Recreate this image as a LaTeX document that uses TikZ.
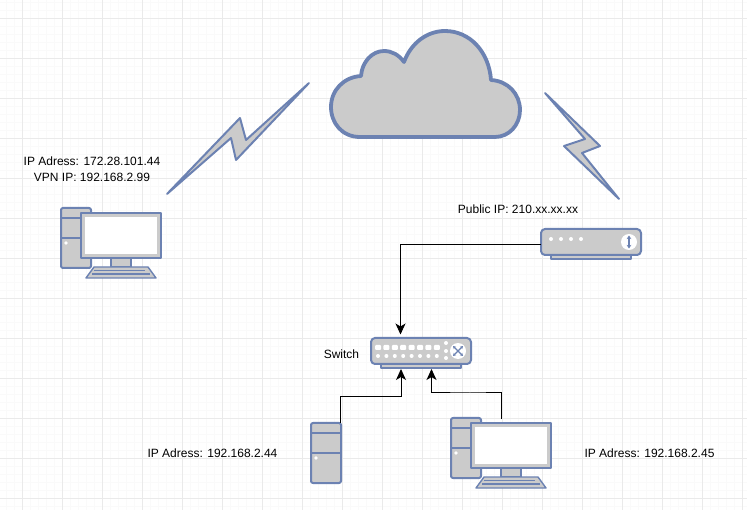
\documentclass[tikz,border=0pt]{standalone}
\usepackage{fontspec}
\setmainfont{Liberation Sans}
\usetikzlibrary{arrows.meta}
\definecolor{iconblue}{HTML}{6C82B2}
\definecolor{icongray}{HTML}{CBCBCB}
\definecolor{gridminor}{HTML}{FAFAFA}
\definecolor{gridmajor}{HTML}{EAEAEA}
\tikzset{
  icon/.style={draw=iconblue, fill=icongray, line width=2pt, line join=round},
  label/.style={font=\fontsize{12}{16}\selectfont, inner sep=0pt, align=center},
  wire/.style={draw=black, line width=1pt, -{Stealth[length=11pt,width=10pt,inset=3pt]}},
  tower/.pic={
    \path[icon, rounded corners=2pt] (0,0) rectangle (30,60);
    \draw[iconblue, line width=2pt] (0,10) -- (30,10) (0,30) -- (30,30);
    \fill[white] (5,35) circle (1.8);
  },
  computer/.pic={
    \pic at (0,0) {tower};
    \path[icon] (50,50) rectangle (70,59);
    \path[icon, line width=1.4pt] (25,70) -- (33,59) -- (87,59) -- (95,70) -- cycle;
    \draw[iconblue, line width=1.5pt] (33,62.5) -- (84,62.5) (31,66) -- (89,66);
    \path[icon] (20,5) rectangle (100,50);
    \fill[white] (24,9) rectangle (96,46);
  },
  box/.pic={
    \path[icon, line width=1.6pt] (10,26) rectangle (90,30);
    \path[icon, rounded corners=4pt] (0,0) rectangle (100,26);
  }
}
\begin{document}
\begin{tikzpicture}[x=1pt, y=-1pt]
    \useasboundingbox (0,0) rectangle (747,510);
    \fill[white] (0,0) rectangle (747,510);
    % grid
    \foreach \gx in {-2,6,...,746} \draw[gridminor, line width=0.6pt] (\gx,0) -- (\gx,510);
    \foreach \gy in {2,10,...,510} \draw[gridminor, line width=0.6pt] (0,\gy) -- (747,\gy);
    \foreach \gx in {22,62,...,746} \draw[gridmajor, line width=0.7pt] (\gx,0) -- (\gx,510);
    \foreach \gy in {18,58,...,510} \draw[gridmajor, line width=0.7pt] (0,\gy) -- (747,\gy);

    % cloud
    \path[icon, line width=3.8pt] (360,137)
      .. controls (342,137) and (331,123) .. (331,107)
      .. controls (331,90) and (344,77) .. (361,76)
      .. controls (362,62) and (372,51) .. (384,51)
      .. controls (392,51) and (399,55) .. (404,62)
      .. controls (411,43) and (427,31) .. (445,31)
      .. controls (470,31) and (489,52) .. (491,80)
      .. controls (508,81) and (520,94) .. (520,110)
      .. controls (520,125) and (509,137) .. (495,137)
      -- cycle;

    % bolts
    \path[icon] (167,194) -- (240,118) -- (246,140) -- (309,83) -- (236,160) -- (231,138) -- cycle;
    \path[icon] (545,93) -- (600,146) -- (582,153) -- (619,199) -- (564,146) -- (585,139) -- cycle;

    % devices
    \pic at (61,208) {computer};
    \pic at (451,418) {computer};
    \pic at (311,423) {tower};

    % router
    \pic at (541,229) {box};
    \foreach \dx in {551,561,571,581} \fill[white] (\dx,239) circle (2);
    \fill[white] (629,242) circle (8);
    \draw[iconblue, line width=1.5pt, {Stealth[length=3.5pt,width=4.5pt]}-{Stealth[length=3.5pt,width=4.5pt]}] (629,235.5) -- (629,248.5);

    % switch
    \pic at (371,338) {box};
    \foreach \dx in {0,...,7} {
      \fill[white, rounded corners=1pt] (375+\dx*8.4,345) rectangle (381+\dx*8.4,350);
      \fill[white] (378+\dx*8.4,356) circle (2);
    }
    \foreach \dy in {343,351,358} \fill[white] (446,\dy) circle (2);
    \fill[white] (458,351) circle (8);
    \draw[iconblue, line width=1.1pt, {Stealth[length=3pt,width=3.5pt]}-{Stealth[length=3pt,width=3.5pt]}] (453,346) -- (463,356);
    \draw[iconblue, line width=1.1pt, {Stealth[length=3pt,width=3.5pt]}-{Stealth[length=3pt,width=3.5pt]}] (463,346) -- (453,356);

    % labels
    \node[label](pc_ip) at (92,169) {IP Adress: 172.28.101.44\\VPN IP: 192.168.2.99};
    \node[label](public_ip) at (518,209) {Public IP: 210.xx.xx.xx};
    \node[label](switch_name) at (341.5,354) {Switch};
    \node[label](server_ip) at (212.5,453) {IP Adress: 192.168.2.44};
    \node[label](client_ip) at (649.5,453) {IP Adress: 192.168.2.45};

    % connector ends
    \coordinate (router_w) at (541,244.5);
    \coordinate (switch_top) at (400.5,334.5);
    \coordinate (switch_bot1) at (401,369);
    \coordinate (switch_bot2) at (431.5,369);
    \coordinate (server_top) at (340.5,423);
    \coordinate (client_top) at (501.5,419);

    \draw[wire] (router_w) -| (switch_top);
    \draw[wire] (server_top) |- (370,396.7) -| (switch_bot1);
    \draw[wire] (client_top) |- (470,393) -| (switch_bot2);
\end{tikzpicture}
\end{document}
